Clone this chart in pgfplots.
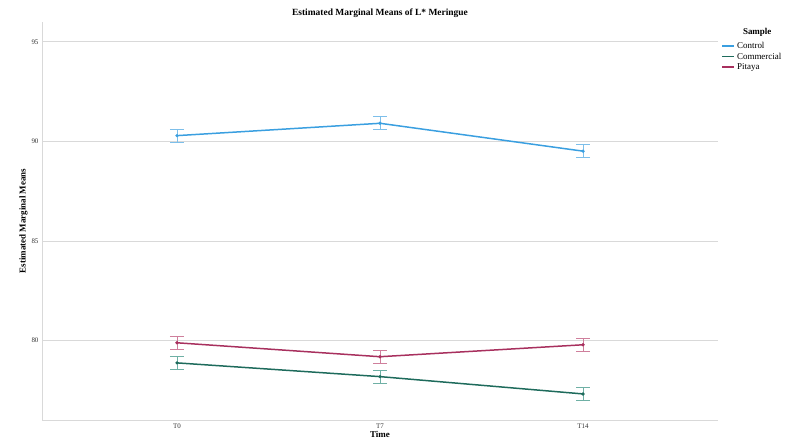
\documentclass[border=0pt]{standalone}
\usepackage{pgfplots}
\pgfplotsset{compat=1.18}
\usepackage{fontspec}
\setmainfont{Liberation Serif}
\definecolor{ctrl}{HTML}{3A9FE0}
\definecolor{ctrlL}{HTML}{7DBFEA}
\definecolor{comm}{HTML}{1E6B5C}
\definecolor{commL}{HTML}{6FB0A5}
\definecolor{pit}{HTML}{A8305E}
\definecolor{pitL}{HTML}{CF7F9C}
\definecolor{gridc}{HTML}{D9D9D9}
\begin{document}
\begin{tikzpicture}
\path[use as bounding box] (-42bp,-28bp) rectangle (745bp,420bp);
\begin{axis}[
  at={(0,0)}, anchor=south west,
  scale only axis, width=676bp, height=398bp,
  clip=false,
  xmin=-0.665, xmax=2.665, ymin=76, ymax=96,
  xtick={0,1,2}, xticklabels={T0,T7,T14},
  ytick={80,85,90,95},
  ymajorgrids, grid style={gridc, line width=0.8pt},
  axis x line*=bottom, axis y line*=left,
  axis line style={gridc, line width=1pt},
  tick style={draw=none},
  tick label style={font=\fontsize{7}{7.5}\selectfont, text=black!80},
  /pgf/number format/assume math mode=true,
  title={\textbf{Estimated Marginal Means of L* Meringue}},
  title style={font=\fontsize{9.5}{10}\selectfont, yshift=-5bp},
  xlabel={\textbf{Time}}, ylabel={\textbf{Estimated Marginal Means}},
  label style={font=\fontsize{9}{9.5}\selectfont},
  xlabel style={yshift=4bp}, ylabel style={yshift=-3bp},
  legend style={at={(1.005,0.955)}, anchor=north west, draw=none, fill=none,
    font=\fontsize{9}{9.5}\selectfont, row sep=-1pt, inner sep=0pt},
  legend cell align=left,
  legend image code/.code={\draw[#1, line width=1.5pt] (0bp,0bp) -- (12bp,0bp);},
]
\addlegendimage{draw=ctrl}
\addlegendentry{Control}
\addlegendimage{draw=comm}
\addlegendentry{Commercial}
\addlegendimage{draw=pit}
\addlegendentry{Pitaya}
\addplot[forget plot, ctrl, line width=1.5pt, mark=*, mark size=0.8pt,
  error bars/.cd, y dir=both, y explicit,
  error bar style={ctrlL, line width=0.9pt}, error mark options={rotate=90, mark size=7bp, ctrlL, line width=0.9pt}]
  table[x=x, y=y, y error=e] {
x y e
0 90.29 0.33
1 90.91 0.33
2 89.51 0.33
};
\addplot[forget plot, comm, line width=1.5pt, mark=*, mark size=0.8pt,
  error bars/.cd, y dir=both, y explicit,
  error bar style={commL, line width=0.9pt}, error mark options={rotate=90, mark size=7bp, commL, line width=0.9pt}]
  table[x=x, y=y, y error=e] {
x y e
0 78.87 0.33
1 78.18 0.33
2 77.31 0.33
};
\addplot[forget plot, pit, line width=1.5pt, mark=*, mark size=0.8pt,
  error bars/.cd, y dir=both, y explicit,
  error bar style={pitL, line width=0.9pt}, error mark options={rotate=90, mark size=7bp, pitL, line width=0.9pt}]
  table[x=x, y=y, y error=e] {
x y e
0 79.88 0.33
1 79.18 0.33
2 79.78 0.33
};
\node[font=\fontsize{9}{9.5}\selectfont\bfseries, anchor=south] at (rel axis cs:1.058,0.955) {Sample};
\end{axis}
\end{tikzpicture}
\end{document}
